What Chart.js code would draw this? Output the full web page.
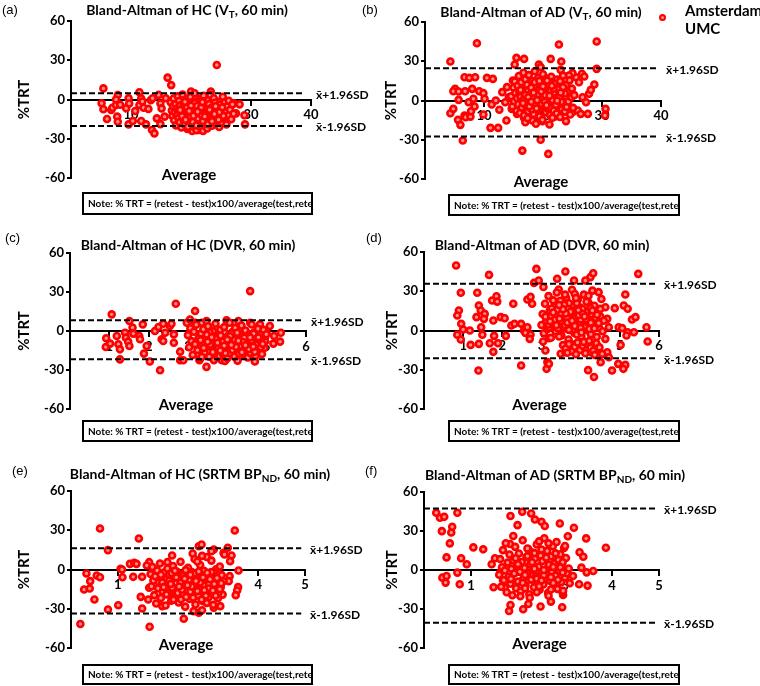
<!DOCTYPE html>
<html>
<head>
<meta charset="utf-8">
<script src="https://cdn.jsdelivr.net/npm/chart.js@4.4.1/dist/chart.umd.min.js"></script>
<style>
body{margin:0;background:#fff;}
#wrap{position:relative;width:760px;height:686px;overflow:hidden;font-family:Lato,sans-serif;color:#000;}
#wrap canvas{position:absolute;left:0;top:0;}
.ttl{position:absolute;width:400px;text-align:center;font-weight:bold;font-size:14px;white-space:nowrap;line-height:18px;}
.ttl sub{font-size:10px;vertical-align:-3px;line-height:0;}
.lt{position:absolute;font-family:"Liberation Sans",Arial,sans-serif;font-size:13px;line-height:16px;}
.note{position:absolute;box-sizing:border-box;border:2px solid #000;font-weight:bold;font-size:10px;white-space:nowrap;overflow:hidden;padding-left:4px;}
.leg{position:absolute;left:685px;top:1px;font-weight:bold;font-size:15px;line-height:18px;}
.dot{position:absolute;left:659px;top:14px;width:3px;height:3px;border:2.5px solid #f00;border-radius:50%;background:#ff9090;}
</style>
</head>
<body>
<div id="wrap">
  <div class="lt" style="left:2px;top:2px">(a)</div>
  <div class="lt" style="left:362px;top:2px">(b)</div>
  <div class="lt" style="left:5px;top:230px">(c)</div>
  <div class="lt" style="left:366px;top:230px">(d)</div>
  <div class="lt" style="left:12px;top:463px">(e)</div>
  <div class="lt" style="left:365px;top:463px">(f)</div>

  <div class="ttl" style="left:-13px;top:1px">Bland-Altman of HC (V<sub>T</sub>, 60 min)</div>
  <div class="ttl" style="left:341px;top:3px">Bland-Altman of AD (V<sub>T</sub>, 60 min)</div>
  <div class="ttl" style="left:-12px;top:236px">Bland-Altman of HC (DVR, 60 min)</div>
  <div class="ttl" style="left:342px;top:236px">Bland-Altman of AD (DVR, 60 min)</div>
  <div class="ttl" style="left:0px;top:465px">Bland-Altman of HC (SRTM BP<sub>ND</sub>, 60 min)</div>
  <div class="ttl" style="left:355px;top:466px">Bland-Altman of AD (SRTM BP<sub>ND</sub>, 60 min)</div>

  <div class="dot"></div>
  <div class="leg">Amsterdam<br>UMC</div>

  <div class="note" style="left:82px;top:192px;width:231px;height:23px;line-height:19px">Note: % TRT = (retest - test)x100/average(test,retest)</div>
  <div class="note" style="left:448px;top:194px;width:232px;height:22px;line-height:18px">Note: % TRT = (retest - test)x100/average(test,retest)</div>
  <div class="note" style="left:82px;top:420px;width:231px;height:22px;line-height:18px">Note: % TRT = (retest - test)x100/average(test,retest)</div>
  <div class="note" style="left:448px;top:420px;width:232px;height:22px;line-height:18px">Note: % TRT = (retest - test)x100/average(test,retest)</div>
  <div class="note" style="left:82px;top:664px;width:231px;height:21px;line-height:17px">Note: % TRT = (retest - test)x100/average(test,retest)</div>
  <div class="note" style="left:448px;top:664px;width:232px;height:21px;line-height:17px">Note: % TRT = (retest - test)x100/average(test,retest)</div>
</div>
<script>
// 축 눈금
const yTicks = [-60, -30, 0, 30, 60];
const vtTicks = [0, 10, 20, 30, 40];
const dvrTicks = [0, 1, 2, 3, 4, 5, 6];
const bpTicks = [0, 1, 2, 3, 4, 5];

// mean +/- 1.96SD
const hcVtLimits = [4.7, -20.3];
const adVtLimits = [24.7, -27.5];
const hcDvrLimits = [8.2, -21.8];
const adDvrLimits = [35.7, -21.2];
const hcBpLimits = [16.3, -33.6];
const adBpLimits = [47.4, -40.5];

// [average, %TRT]
const hcVt = [
[5.4,8.5],[5.1,-2.9],[5.4,-7.5],[6.0,-14.9],[6.7,-8],[6.9,-6.3],[7.5,-4.2],[7.8,3.4],[7.7,-13.1],[7.8,-17],
[8.2,-4],[7.5,0],[9.2,-6.7],[9.6,1],[9.7,-3],[9.6,-19],[10.3,-16.4],[10.7,-8.8],[11.4,5.5],[11.4,-4.2],
[11.7,0.8],[11.9,-1.5],[12.1,-6.3],[11.7,-16.4],[12.5,-19],[12.9,-7.2],[13.3,-0.5],[13.6,1],[13.5,-23.3],[13.9,-25.9],
[14.3,-14.4],[14.6,3.5],[14.9,-3],[14.9,-18.8],[15.1,-6.8],[16.1,16.7],[16.7,11],[15.6,-13.1],[15.8,1],
[25.3,0],[26.1,-15.6],[27.2,-2.9],[27.5,-10.6],[28.1,-3.7],[28.9,-12],[29,-19],[23.3,6.1],[20,6.1],[20.2,-24.1],
[21.9,-23.3],[21.3,-23.3],[24.2,-17],[24.4,-5.4],[25.6,-8],[24.3,26.4],
[16.6,-2.1],[16.8,-8.4],[16.9,-12.5],[17.0,-5.2],[17.1,0.8],[17.2,-15.9],[17.3,-9.7],[17.4,-3.6],[17.5,-19.8],[17.6,-6.9],
[17.7,-11.8],[17.8,2.4],[17.9,-14.2],[18.0,-1.2],[18.0,-7.7],[18.1,-17.3],[18.2,-4.5],[18.3,-10.6],[18.4,-21.4],[18.5,-8.9],
[18.6,3.8],[18.6,-13.3],[18.7,-5.9],[18.8,-16.1],[18.9,-2.8],[19.0,-9.4],[19.0,-19.2],[19.1,-12.0],[19.2,-6.3],[19.3,0.2],
[19.4,-14.9],[19.4,-22.6],[19.5,-8.1],[19.6,-3.9],[19.7,-11.1],[19.8,-17.8],[19.8,-6.8],[19.9,1.9],[20.0,-13.6],[20.0,-9.9],
[20.1,-4.2],[20.2,-20.5],[20.2,-15.4],[20.3,-7.4],[20.4,-1.6],[20.5,-11.7],[20.5,-18.6],[20.6,4.8],[20.7,-5.5],[20.8,-9.0],
[20.8,-14.1],[20.9,-23.4],[21.0,-2.4],[21.0,-7.9],[21.1,-12.8],[21.2,-16.9],[21.3,-4.8],[21.3,-10.2],[21.4,0.6],[21.5,-20.8],
[21.5,-6.2],[21.6,-13.9],[21.7,-8.6],[21.8,-3.1],[21.8,-17.5],[21.9,-11.4],[22.0,-24.0],[22.0,-5.7],[22.1,2.9],[22.2,-9.6],
[22.2,-15.2],[22.3,-1.4],[22.4,-7.1],[22.5,-19.6],[22.5,-12.3],[22.6,-4.0],[22.7,-22.1],[22.8,-8.3],[22.8,-14.6],[22.9,-0.5],
[23.0,-10.8],[23.0,-6.0],[23.1,-17.0],[23.2,3.6],[23.3,-2.7],[23.3,-12.9],[23.4,-8.8],[23.5,-20.1],[23.6,-5.0],[23.6,-15.8],
[23.7,-10.0],[23.8,0.9],[23.9,-7.5],[24.0,-13.4],[24.0,-18.2],[24.1,-3.3],[24.2,-9.2],[24.3,-6.5],[24.4,-16.5],[24.5,-11.6],
[24.6,-1.9],[24.7,-21.0],[24.8,-8.0],[24.9,-13.1],[25.0,-4.6],[25.1,-17.6],[25.2,-10.4],[25.3,2.1],[25.4,-6.7],[25.5,-14.4],
[25.6,-2.2],[25.8,-9.3],[25.9,-19.0],[26.0,-5.4],[26.2,-12.2],[26.3,-0.9],[26.5,-7.8],[26.7,-15.1],[26.9,-3.7],[27.1,-10.9],
[18.2,-8.0],[18.5,-12.7],[18.8,-3.4],[19.1,-15.5],[19.3,-6.0],[19.6,-10.4],[19.9,-13.0],[20.1,-7.0],[20.3,-17.2],[20.6,-2.9],
[20.8,-11.2],[21.0,-5.0],[21.2,-14.6],[21.4,-8.2],[21.6,-1.0],[21.8,-12.0],[22.0,-16.4],[22.2,-4.6],[22.4,-10.0],[22.6,-7.6],
[22.8,-18.8],[23.0,-3.6],[23.2,-11.8],[23.4,-6.3],[23.6,-14.0],[23.8,-9.4],[24.0,-2.5],[24.2,-12.8],[24.4,-7.2],[24.6,-15.4],
[24.8,-4.0],[25.0,-10.8],[25.2,-6.0],[25.4,-12.5],[19.0,-1.8],[19.5,-20.8],[20.0,-4.8],[20.9,-19.8],[21.7,-6.0],[22.3,-13.0],
[22.9,-9.0],[23.5,-16.6],[24.1,-5.2],[24.7,-9.8],[20.4,-12.4],[21.1,-9.4],[21.9,-2.0],[23.1,-7.9],[23.9,-11.1],[19.7,-8.8]
];

const adVt = [
[8.8,43.8],[4.3,29.8],[22.7,42.8],[29.1,45.1],[29.1,24.2],[15.5,32.6],[16.8,31.8],[15.2,27.5],[21.3,31.8],[23.1,29.8],
[23,23.4],[19.3,27.5],[19.6,25.5],[16.5,-38.3],[20.9,-40.8],[19.6,-30],[6.4,-30.6],[11.1,-20.9],[12.4,-20.9],[13.8,-15.3],
[6.7,17.8],[7.5,17.3],[8.5,17.8],[10.5,17.3],[11.5,16.5],[5.1,8.9],[4.8,7.1],[5.7,6.9],[6.8,7.1],[8,8.9],
[9.2,7.1],[9.9,5.6],[5.7,0.5],[7.4,-1.3],[8.2,1.3],[10.1,1.3],[11.3,-3.1],[4.3,-9.7],[4.8,-6.4],[5.6,-14.8],
[6,-18.6],[6.7,-11.5],[6.9,-12.8],[7.7,-12.3],[7.8,-8.2],[8.4,-4.6],[9.9,-10.7],[12.6,-7.1],[12,0],[13.1,6.4],
[13.6,-1.3],[13.9,10.2],[14.9,15.3],[15.3,12.7],[15.6,-10.2],[16.8,-13.3],[17,-16.6],[18.2,-15.3],[18.8,-17.8],[19.9,-15.8],
[21.1,-18.3],[22.2,-12.1],[23.9,-15.8],[25,-9],[25.9,-7.6],[26.4,-10.2],[27.6,-10.2],[27.3,-1.3],[26.7,2.5],[27.8,5.1],
[28.1,8.1],[28.7,12.2],[26.6,20.4],[27,18.3],[25.6,17.8],[25,20.9],[24.4,19.1],[26.1,14],[30.6,-6.4],[30.5,-11.5],
[14.7,-6.4],[14.2,2.5],
[14.6,3.2],[14.8,-4.5],[15.0,9.8],[15.1,-0.6],[15.2,14.6],[15.3,5.7],[15.5,-7.9],[15.6,1.8],[15.7,11.3],[15.8,-2.9],
[15.9,18.7],[16.0,6.4],[16.1,-9.6],[16.2,2.7],[16.3,13.9],[16.4,-5.3],[16.5,8.8],[16.6,0.3],[16.7,21.2],[16.8,-11.4],
[16.9,4.9],[17.0,16.2],[17.1,-3.7],[17.2,10.5],[17.3,-0.9],[17.4,7.3],[17.5,-8.2],[17.6,19.4],[17.7,2.1],[17.8,12.8],
[17.9,-5.8],[18.0,5.5],[18.1,-1.7],[18.2,15.1],[18.3,8.1],[18.4,-10.3],[18.5,3.6],[18.6,22.4],[18.7,-3.1],[18.8,11.7],
[18.9,0.9],[19.0,6.8],[19.1,-7.1],[19.2,17.3],[19.3,2.9],[19.4,-12.1],[19.5,9.4],[19.6,-0.2],[19.7,13.2],[19.8,4.4],
[19.9,-4.8],[20.0,20.1],[20.1,7.6],[20.2,-2.3],[20.3,10.9],[20.4,1.4],[20.5,-9.0],[20.6,16.7],[20.7,5.1],[20.8,-6.2],
[20.9,12.4],[21.0,-0.4],[21.1,8.5],[21.2,-11.0],[21.3,3.3],[21.4,18.1],[21.5,-3.9],[21.6,6.2],[21.7,14.3],[21.8,-7.6],
[21.9,0.7],[22.0,9.9],[22.1,-1.9],[22.2,4.7],[22.3,-9.9],[22.4,16.0],[22.5,2.2],[22.6,-4.3],[22.7,11.1],[22.8,7.0],
[22.9,-12.6],[23.0,0.1],[23.1,13.6],[23.2,-6.7],[23.3,5.9],[23.4,19.0],[23.5,-2.6],[23.6,8.3],[23.7,-8.5],[23.8,3.0],
[23.9,11.9],[24.0,-4.9],[24.2,6.6],[24.3,-0.8],[24.5,15.4],[24.6,-10.7],[24.8,2.5],[24.9,9.1],[25.1,-5.6],[25.3,4.1],
[17.4,-13.5],[19.9,-14.8],[21.6,-13.2],[18.2,-6.6],[20.4,-5.0],[19.3,8.0],[20.8,3.9],[21.9,6.3],[18.7,4.2],[20.1,1.0],
[16.2,8.1],[16.6,-2.0],[17.0,4.3],[17.3,12.0],[17.7,-4.4],[18.0,9.7],[18.3,1.2],[18.6,14.0],[18.9,-6.0],[19.2,5.0],
[19.5,12.6],[19.8,-2.5],[20.1,9.3],[20.4,4.0],[20.7,15.2],[21.0,-5.0],[21.3,7.8],[21.6,0.3],[21.9,12.9],[22.2,-3.3],
[22.5,8.7],[22.8,2.8],[23.1,-1.0],[23.4,10.2],[23.7,5.4],[17.5,2.6],[18.4,6.0],[19.0,0.2],[19.7,7.0],[20.3,-1.1],
[21.1,3.6],[21.8,9.0],[22.4,-0.2],[23.0,6.0],[20.0,10.8],[18.0,-1.0],[19.4,15.0],[21.5,11.2],[22.9,14.8],[20.6,-3.6]
];

const hcDvr = [
[4.58,30.7],[2.69,21],[3.18,15.4],[1.06,12.8],[0.92,-5.6],[0.91,-12.3],[1.02,-9.7],[1.19,-3.8],[1.23,-10.2],[1.27,-14.1],
[1.27,-21.8],[1.4,-1.3],[1.42,-5.1],[1.48,-8.2],[1.51,-11.5],[1.51,7.7],[1.59,2.6],[1.61,-2],[1.76,-3.8],[1.78,-6.4],
[1.85,5.1],[1.88,-17.4],[1.95,-11.5],[2.03,-23.5],[2.16,0],[2.25,3.1],[2.29,-30.2],[2.33,-6.4],[2.37,5.6],[2.42,-1.3],
[2.37,-7.7],[2.54,3.8],[2.58,5.6],[2.64,-9],[2.64,-2.6],[2.8,-15.9],[2.8,-22.5],[2.88,-22.5],[2.97,6.4],[3.05,8.9],
[3.29,-22.5],[3.47,-27.6],[3.18,6.4],[3.35,6.4],[3.47,7.7],[4.7,-23.5],[5.08,3.8],[5.19,-3.8],[5.17,-9.7],[5.36,-1.3],
[5.34,-8.2],[5,-1.3],[4.96,-5.1],[4.83,5.1],[4.58,6.4],[4.28,7.7],[3.98,8.2],[3.86,-22.5],[3.94,-23],
[3.00,-3.2],[3.03,-12.5],[3.06,2.1],[3.09,-7.8],[3.12,-18.4],[3.15,-0.6],[3.18,-10.1],[3.21,4.9],[3.24,-14.7],[3.27,-5.4],
[3.30,-21.3],[3.33,-2.0],[3.36,-9.2],[3.39,1.4],[3.42,-16.6],[3.45,-6.3],[3.48,-11.9],[3.51,3.7],[3.54,-19.8],[3.57,-4.1],
[3.60,-8.7],[3.62,-13.8],[3.64,-0.3],[3.66,-22.4],[3.68,-6.9],[3.70,5.6],[3.72,-10.6],[3.74,-15.9],[3.76,-2.7],[3.78,-8.0],
[3.80,-19.1],[3.82,1.0],[3.84,-12.3],[3.86,-5.0],[3.88,-17.2],[3.90,-9.5],[3.92,3.0],[3.94,-1.5],[3.96,-14.2],[3.98,-7.3],
[4.00,-21.0],[4.02,-3.8],[4.04,-11.2],[4.06,6.3],[4.08,-16.0],[4.10,-6.1],[4.12,-0.9],[4.14,-9.9],[4.16,-13.1],[4.18,-19.5],
[4.20,2.4],[4.22,-4.7],[4.24,-8.4],[4.26,-22.8],[4.28,-12.7],[4.30,-1.8],[4.32,-6.6],[4.34,-15.3],[4.36,4.2],[4.38,-10.3],
[4.40,-3.4],[4.42,-18.2],[4.44,-7.6],[4.46,0.4],[4.48,-13.6],[4.50,-5.3],[4.52,-20.3],[4.54,-9.0],[4.56,-2.3],[4.58,-16.8],
[4.60,-11.5],[4.62,5.0],[4.64,-6.0],[4.66,-14.5],[4.68,-1.1],[4.70,-8.9],[4.72,-19.0],[4.74,-4.4],[4.76,-12.0],[4.78,1.7],
[4.80,-7.2],[4.82,-15.6],[4.84,-3.0],[4.86,-10.8],[4.88,-17.7],[4.90,-5.7],[4.92,0.9],[4.94,-13.0],[4.96,-8.1],[4.99,-2.5],
[3.35,-19.9],[3.55,-1.2],[3.72,-4.3],[3.85,-11.0],[3.95,-5.8],[4.05,-16.9],[4.15,-3.0],[4.25,-10.0],[4.35,-7.0],[4.45,-12.0],
[4.55,-6.3],[4.65,-9.6],[4.75,-14.0],[3.65,-9.3],[4.05,-8.2],[4.30,-17.5],[3.90,-13.5],[4.10,-1.9],[4.60,-3.6],[4.85,-6.8],
[3.32,-7.0],[3.40,-13.0],[3.48,-2.8],[3.56,-10.5],[3.63,-16.2],[3.70,-6.0],[3.77,-12.9],[3.83,-3.5],[3.89,-8.2],[3.95,-17.0],
[4.01,-9.5],[4.07,-4.0],[4.13,-14.6],[4.19,-6.9],[4.25,-1.4],[4.31,-11.6],[4.37,-16.4],[4.43,-5.2],[4.49,-9.3],[4.55,-13.8],
[4.61,-7.4],[4.67,-2.1],[4.73,-10.6],[4.79,-4.9],[4.85,-12.5],[3.60,-4.8],[3.75,-9.0],[3.92,-11.3],[4.00,-6.6],[4.22,-12.2],
[4.40,-8.5],[4.58,-5.0],[4.70,-16.0],[3.50,-8.3],[4.10,-10.8],[4.28,-7.5],[4.46,-11.0],[3.82,-15.0],[4.66,-12.0],[4.90,-9.9]
];

const adDvr = [
[0.82,49.7],[0.94,28.8],[0.89,15.3],[0.85,11.5],[0.95,5.1],[1,0.8],[0.85,-3.3],[0.94,-6.9],[1.19,-11],[1.17,0],
[1.39,-30.6],[1.36,28.8],[1.4,19.1],[1.45,15.3],[1.34,10.2],[1.46,2.5],[1.49,-3.3],[1.4,-10.2],[1.55,12.7],[1.53,8.9],
[1.66,42.5],[1.74,22.9],[1.85,26.2],[1.87,22.1],[1.77,7.6],[1.79,-4.1],[1.68,-9.7],[1.77,-16.3],[1.89,-9.7],[1.96,10.2],
[2.06,9.4],[2.09,-4.1],[2.28,20.4],[2.23,3.8],[2.31,5.1],[2.48,-26.8],[2.48,5.1],[2.55,0],[2.59,-1.8],[2.72,-3.3],
[2.7,-6.4],[2.64,2.5],[2.64,23.7],[2.72,25.7],[2.76,20.4],[2.81,36.4],[2.87,47.1],[2.93,38.2],[3.04,-8.4],[3.19,-5.9],
[3.1,-15.3],[3.15,-24.2],[3.13,-29.3],[3.19,-25.5],[3.4,39.5],[3.61,45.1],[3.44,31.3],[3.66,-11.5],[3.49,-17.8],[3.61,-16.6],
[3.74,-9.7],[3.83,38.2],[4.12,38.2],[4.25,40.8],[4.32,43.8],[4.19,-30.3],[4.25,-16.6],[4.38,-17.1],[4.46,-19.1],[4.51,-24.2],
[4.68,-16.6],[4.72,-20.4],[4.63,-6.4],[4.46,29.3],[4.63,17.8],[4.68,8.9],[4.72,2.5],[4.87,17.1],[4.97,2.5],[4.96,-25.5],
[5.02,-11],[5.06,1.8],[5.1,19.1],[5.14,27.5],[5.2,16.6],[5.31,8.4],[5.4,10.2],[5.2,-1.3],[5.36,-1.3],[5.14,-26.3],
[5.09,-29.3],[4.8,-30.6],[5.17,-3.8],[5.47,43.3],[5.68,2.5],[5.71,-8.4],[4.34,-35.5],
[3.00,4.2],[3.03,12.6],[3.06,-2.1],[3.09,20.5],[3.12,7.7],[3.15,0.9],[3.18,26.3],[3.21,15.2],[3.24,-5.6],[3.27,9.8],
[3.30,3.1],[3.33,18.4],[3.36,-0.7],[3.39,29.1],[3.42,11.4],[3.45,5.6],[3.48,22.7],[3.51,-3.8],[3.54,14.0],[3.57,8.2],
[3.60,1.5],[3.63,25.0],[3.66,16.8],[3.69,-6.9],[3.72,10.6],[3.75,4.8],[3.78,31.2],[3.81,19.6],[3.84,-1.9],[3.87,13.1],
[3.90,7.0],[3.93,23.8],[3.96,2.6],[3.99,17.5],[4.02,-4.5],[4.05,10.1],[4.08,27.4],[4.11,5.3],[4.14,14.8],[4.17,0.3],
[4.20,21.3],[4.23,8.9],[4.26,-2.8],[4.29,12.2],[4.32,3.7],[4.35,18.9],[4.38,6.4],[4.41,-5.0],[4.44,15.7],[4.47,2.0],
[4.50,10.9],[4.53,24.1],[4.56,-0.6],[4.59,7.5],[3.05,33.3],[3.35,6.1],[3.55,2.9],[3.70,20.8],[3.85,5.2],[4.00,8.0],
[3.20,2.2],[3.40,15.9],[3.65,9.6],[3.80,1.0],[3.95,11.8],[4.10,3.3],[4.25,17.0],[4.40,4.4],[3.50,6.9],[3.75,13.5],
[3.25,11.0],[3.60,4.0],[3.90,-3.0],[4.15,6.8],[3.45,-4.6],[3.70,1.8],[4.05,16.4],[3.30,23.0],[3.85,27.9],[4.30,30.5],
[3.55,-11.2],[3.62,-13.8],[3.70,-10.3],[3.78,-16.1],[3.85,-12.4],[3.92,-9.2],[3.98,-14.9],[4.05,-11.7],[4.12,-17.4],[4.18,-10.6],
[4.25,-13.2],[4.32,-15.5],[4.40,-9.8],[4.48,-12.9],[4.55,-17.9],[3.66,-17.0],[3.88,-18.1],[4.08,-8.7],[4.36,-18.6],[4.22,-7.9],
[3.10,10.5],[3.18,4.6],[3.26,16.8],[3.34,8.3],[3.42,1.6],[3.50,12.4],[3.58,19.8],[3.66,6.0],[3.74,14.3],[3.82,9.0],
[3.90,20.9],[3.98,4.1],[4.06,12.8],[4.14,8.6],[4.22,1.2],[4.30,15.3],[4.38,9.8],[4.46,5.6],[3.30,13.8],[3.46,9.1],
[3.62,13.0],[3.78,7.5],[3.94,15.6],[4.10,10.7],[4.26,6.0],[4.42,12.0],[3.55,16.2],[3.85,3.4],[4.15,22.0],[4.00,2.0],
[3.38,4.0],[3.70,0.5],[4.35,1.5],[3.22,7.0],[4.50,16.5],[3.88,24.8],[3.60,27.4],[4.20,26.6],[3.45,19.5],[4.02,-1.5]
];

const hcBp = [
[0.62,31.3],[1.45,23.7],[3.5,29.8],[0.79,14.8],[0.33,-3],[0.55,-4.6],[0.62,-5.9],[0.41,-8.9],[0.28,-15.3],[0.4,-14.5],
[0.5,-22.9],[0.2,-41.6],[0.79,-30.6],[1.01,-27.3],[1.06,0.5],[1.09,0],[1.1,-5.9],[1.26,4.3],[1.35,5.1],[1.4,4.3],
[1.33,-5.6],[1.52,-5.6],[1.49,-20.9],[1.52,-29.8],[1.65,-22.9],[1.68,-43.8],[1.67,5.6],[1.62,3.1],[1.67,-14],[2.41,-37.7],
[2.73,17.8],[2.79,19.1],[3.05,15.3],[3.35,16.6],[3.26,12.7],[3.43,10.7],[3.4,6.4],[3.58,-0.8],[3.57,-13.5],[3.55,-16],
[3.52,-19.6],[3.39,-5.1],[3.37,-8.9],[3.12,-19.1],[3.19,-28],[3.05,-29.3],[2.73,-33.1],[2.8,-31.1],[2.62,-31.8],[1.95,-28],
[2.16,10.7],[2.06,5.6],
[1.70,-3.5],[1.72,-12.8],[1.74,1.9],[1.76,-8.4],[1.78,-19.6],[1.80,-5.1],[1.82,-26.0],[1.84,-0.7],[1.86,-14.3],[1.88,-9.7],
[1.90,4.6],[1.92,-21.8],[1.94,-6.2],[1.96,-16.9],[1.98,-2.3],[2.00,-11.4],[2.02,-27.5],[2.04,-7.5],[2.06,0.8],[2.08,-18.3],
[2.10,-4.0],[2.12,-13.2],[2.14,-23.9],[2.16,-9.1],[2.18,2.7],[2.20,-15.7],[2.22,-6.8],[2.24,-20.5],[2.26,-1.5],[2.28,-11.9],
[2.30,-25.2],[2.32,-8.0],[2.34,5.9],[2.36,-14.8],[2.38,-3.2],[2.40,-18.9],[2.42,-10.3],[2.44,-28.4],[2.46,-5.5],[2.48,-16.2],
[2.50,1.3],[2.52,-12.5],[2.54,-22.6],[2.56,-7.1],[2.58,-2.0],[2.60,-17.5],[2.62,-9.4],[2.64,8.0],[2.66,-26.7],[2.68,-13.8],
[2.70,-4.6],[2.72,-20.0],[2.74,-10.9],[2.76,3.4],[2.78,-15.3],[2.80,-6.4],[2.82,-24.3],[2.84,-1.0],[2.86,-12.0],[2.88,-18.0],
[2.90,9.6],[2.92,-8.6],[2.94,-21.2],[2.96,-3.9],[2.98,-14.1],[3.00,6.8],[3.02,-10.0],[3.04,-27.0],[3.06,-5.8],[3.08,-16.6],
[3.10,0.2],[3.12,-11.6],[3.14,-22.0],[3.16,-7.7],[3.18,2.3],[3.20,-13.5],[3.22,-4.3],[3.24,-19.2],[3.26,-9.0],[3.28,11.5],
[2.25,-10.1],[2.45,-0.5],[2.55,-9.8],[2.65,-5.0],[2.35,-22.8],[2.75,-8.3],[2.85,-6.9],[2.95,-11.2],[2.05,-13.6],[2.15,-2.8],
[2.6,12.2],[2.8,10.4],[3.0,13.9],[2.7,6.1],[2.9,-25.5],[3.15,-17.8],[1.95,-9.9],[2.55,-17.0],[2.4,-13.4],[3.05,-1.9],
[1.92,-4.0],[1.98,-13.5],[2.04,-19.0],[2.10,-8.5],[2.16,-14.0],[2.22,-1.0],[2.28,-18.0],[2.34,-10.0],[2.40,-5.0],[2.46,-21.0],
[2.52,-8.0],[2.58,-13.0],[2.64,-3.0],[2.70,-16.5],[2.76,-10.0],[2.82,-6.0],[2.88,-20.0],[2.94,-14.5],[3.00,-2.0],[3.06,-11.0],
[3.12,-6.5],[3.18,-15.0],[2.13,-11.0],[2.37,-15.5],[2.61,-21.5],[2.85,-15.8],[3.09,-20.0],[2.25,-6.0],[2.49,-12.0],[2.73,-1.5],
[2.97,-7.5],[2.31,-13.0],[2.67,-8.8],[2.79,-23.0],[3.03,-16.0],[2.19,-23.0],[2.43,-7.0],[2.55,-4.0],[2.91,-2.5],[3.21,-10.5]
];

const adBp = [
[0.26,44],[0.34,40.2],[0.43,40.9],[0.71,44],[0.38,29.9],[0.58,28.9],[0.6,33.3],[0.55,20.5],[0.48,9.7],[0.79,9],
[0.91,4.4],[1.05,17.4],[1.26,15.9],[0.39,-5.9],[0.48,-4.6],[0.46,-9.7],[0.71,-2],[0.76,-11],[1.48,-13.3],[1.51,9],
[1.44,4.4],[1.84,41.5],[2.09,44.8],[2.28,43.5],[2.36,38.9],[2.5,37.1],[2.57,33.8],[2.89,35.8],[3.19,32.5],[3.45,24.3],
[3.87,17.1],[3.31,13.6],[3.39,10.2],[3.35,1.8],[3.46,-1.8],[3.6,-0.8],[3.48,-12],[3.3,-11],[3.17,-4.6],[2.96,-19.2],
[2.95,-17.4],[2.94,-28.6],[1.84,-26.9],[1.81,-31.5],[2.11,-30.2],[2.22,-26.1],[2.48,-28.1],[2.7,-24.3],[1.72,-13.6],[1.68,-7.7],
[1.63,-1.3],[1.83,20],[1.9,26.1],[1.99,34.5],
[1.60,-3.6],[1.62,8.4],[1.64,-12.9],[1.66,2.1],[1.68,15.3],[1.70,-7.8],[1.72,-0.4],[1.74,20.6],[1.76,-17.1],[1.78,5.7],
[1.80,-5.2],[1.82,11.9],[1.84,-10.6],[1.86,0.9],[1.88,-19.4],[1.90,7.3],[1.92,-2.7],[1.94,17.8],[1.96,-14.0],[1.98,3.5],
[2.00,-8.9],[2.02,12.7],[2.04,-1.3],[2.06,-16.3],[2.08,6.2],[2.10,22.9],[2.12,-6.1],[2.14,1.6],[2.16,-11.8],[2.18,9.9],
[2.20,-3.0],[2.22,16.1],[2.24,-18.7],[2.26,4.4],[2.28,-7.4],[2.30,13.5],[2.32,-0.1],[2.34,-13.3],[2.36,8.8],[2.38,-4.8],
[2.40,19.7],[2.42,-9.7],[2.44,2.6],[2.46,-15.2],[2.48,11.0],[2.50,-2.2],[2.52,6.9],[2.54,-11.1],[2.56,24.4],[2.58,-6.5],
[2.60,0.5],[2.62,14.6],[2.64,-17.6],[2.66,4.0],[2.68,-8.2],[2.70,10.4],[2.72,-1.7],[2.74,18.3],[2.76,-12.4],[2.78,5.3],
[2.80,-4.3],[2.82,21.5],[2.84,-14.5],[2.86,7.8],[2.88,-0.8],[2.90,12.1],[2.92,-9.3],[2.94,3.0],[2.96,-16.0],[2.98,16.9],
[3.00,-5.7],[3.02,9.2],[3.04,-2.5],[3.06,26.0],[3.08,1.2],[3.10,-10.1],[2.05,-20.2],[2.25,-21.4],[2.45,22.0],[2.65,-19.8],
[2.35,1.0],[2.55,-4.0],[2.15,-3.9],[2.75,2.4],[2.95,6.0],[1.85,-6.8],[2.50,15.8],[2.20,10.7],[2.70,-15.0],[2.40,-6.6],
[2.10,-10.0],[2.30,6.0],[2.50,-8.0],[2.70,-5.5],[2.90,2.0],[2.20,16.5],[2.60,9.5],[2.40,-17.0],[2.80,12.8],[3.00,18.5],
[2.00,4.5],[2.45,-12.5],[2.85,-7.5],[2.15,-14.0],[2.65,20.5],[2.35,13.0],[2.55,0.0],[2.75,-10.0],[1.95,9.0],[2.95,-2.0]
];

// 패널 배치 (픽셀)
const panels = [
  {pts: hcVt,  lim: hcVtLimits,  xt: vtTicks,  lineEnd: 38.8, box: [71, 311, 21, 178],  yw: 56, avgDy: -3},
  {pts: adVt,  lim: adVtLimits,  xt: vtTicks,  lineEnd: 39.6, box: [425, 661, 22, 179], yw: 43, avgDy: 3},
  {pts: hcDvr, lim: hcDvrLimits, xt: dvrTicks, lineEnd: 5.88, box: [70, 306, 253, 409], yw: 55, avgDy: -4},
  {pts: adDvr, lim: adDvrLimits, xt: dvrTicks, lineEnd: 5.94, box: [424, 659, 252, 409], yw: 41, avgDy: -4},
  {pts: hcBp,  lim: hcBpLimits,  xt: bpTicks,  lineEnd: 4.92, box: [71, 305, 491, 648], yw: 56, avgDy: -3},
  {pts: adBp,  lim: adBpLimits,  xt: bpTicks,  lineEnd: 4.95, box: [424, 659, 492, 648], yw: 41, avgDy: -4}
];

const sdLabels = {
  id: 'sdLabels',
  afterDraw(chart, args, opts) {
    const ctx = chart.ctx, a = chart.chartArea, y = chart.scales.y;
    ctx.save();
    ctx.fillStyle = '#000';
    ctx.textBaseline = 'middle';
    ctx.textAlign = 'left';
    ctx.font = 'bold 12px Lato';
    ctx.fillText('x\u0304+1.96SD', a.right + 5, y.getPixelForValue(opts.lim[0]) + 1.5);
    ctx.fillText('x\u0304-1.96SD', a.right + 5, y.getPixelForValue(opts.lim[1]) + 1.5);
    ctx.textAlign = 'center';
    ctx.font = 'bold 15px Lato';
    ctx.fillText('Average', (a.left + a.right) / 2 - 2, a.bottom + opts.avgDy);
    ctx.restore();
  }
};

const wrap = document.getElementById('wrap');
panels.forEach(function(p){
  const cv = document.createElement('canvas');
  cv.width = 760; cv.height = 686;
  wrap.insertBefore(cv, wrap.firstChild);
  const xMax = p.xt[p.xt.length - 1];
  const limLine = v => ({
    data: [{x: 0, y: v}, {x: p.lineEnd, y: v}],
    showLine: true, borderColor: '#000', borderWidth: 2, borderDash: [6, 3],
    pointRadius: 0, fill: false
  });
  new Chart(cv.getContext('2d'), {
    type: 'scatter',
    data: {
      datasets: [
        limLine(p.lim[0]),
        limLine(p.lim[1]),
        {
          label: 'Amsterdam UMC',
          data: p.pts.map(d => ({x: d[0], y: d[1]})),
          pointRadius: 3, borderWidth: 2.6,
          borderColor: '#ff0000', backgroundColor: '#ff9090'
        }
      ]
    },
    options: {
      responsive: false,
      animation: false,
      events: [],
      layout: {padding: {left: p.box[0] - p.yw, right: 760 - p.box[1], top: p.box[2], bottom: 686 - p.box[3]}},
      plugins: {legend: {display: false}, tooltip: {enabled: false}, sdLabels: {lim: p.lim, avgDy: p.avgDy}},
      scales: {
        x: {
          type: 'linear', min: 0, max: xMax,
          position: {y: 0},
          afterFit: s => { s.height = 0; },
          afterBuildTicks: s => { s.ticks = p.xt.map(v => ({value: v})); },
          border: {display: true, color: '#000', width: 2},
          grid: {drawOnChartArea: false, color: '#000', lineWidth: 2, tickLength: 5},
          ticks: {
            autoSkip: false, maxRotation: 0, padding: 3, color: '#000',
            font: {family: 'Lato', size: 13, weight: 'bold'},
            callback: v => v === 0 ? '' : v
          }
        },
        y: {
          type: 'linear', min: -60, max: 60, position: 'left',
          afterFit: s => { s.width = p.yw; },
          afterBuildTicks: s => { s.ticks = yTicks.map(v => ({value: v})); },
          border: {display: true, color: '#000', width: 2},
          grid: {drawOnChartArea: false, color: '#000', lineWidth: 2, tickLength: 4},
          ticks: {padding: 2, color: '#000', font: {family: 'Lato', size: 13, weight: 'bold'}},
          title: {display: true, text: '%TRT', color: '#000', padding: 0, font: {family: 'Lato', size: 15, weight: 'bold'}}
        }
      }
    },
    plugins: [sdLabels]
  });
});
</script>
</body>
</html>
